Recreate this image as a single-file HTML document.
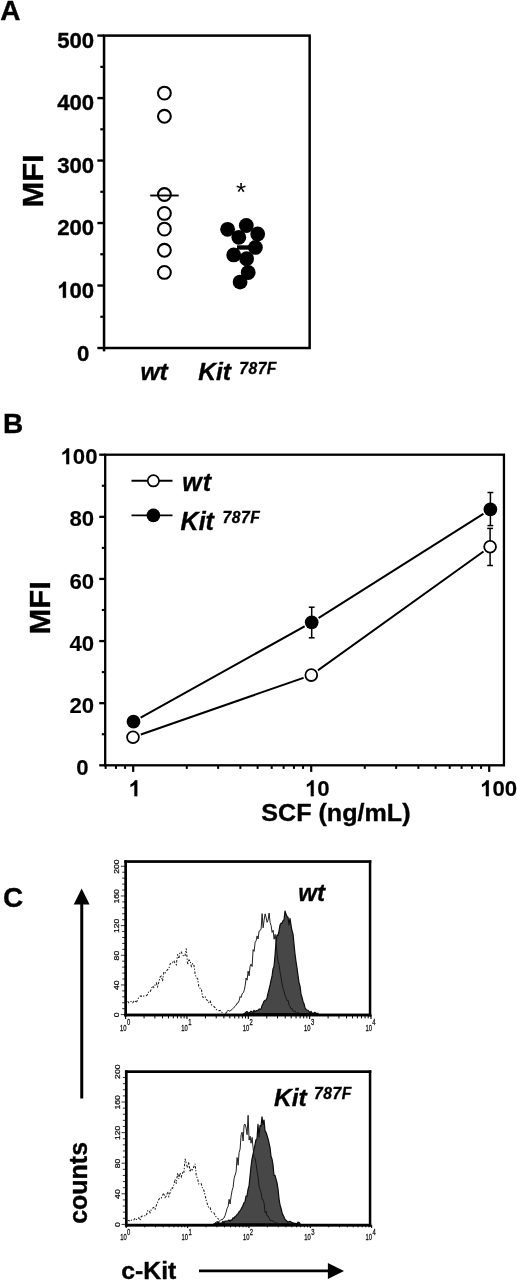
<!DOCTYPE html>
<html lang="en">
<head>
<meta charset="utf-8">
<title>Figure</title>
<style>
html,body{margin:0;padding:0;background:#fff;}
body{width:517px;height:1280px;overflow:hidden;font-family:"Liberation Sans", sans-serif;}
svg{display:block;font-family:"Liberation Sans", sans-serif;filter:grayscale(100%);}
svg text{font-family:"Liberation Sans", sans-serif;fill:#000;}
</style>
</head>
<body>
<svg width="517" height="1280" viewBox="0 0 517 1280">
<rect x="0" y="0" width="517" height="1280" fill="#fff"/>
<!-- Panel A -->
<text x="0.30" y="19.60" font-size="28" font-weight="bold" font-style="normal" text-anchor="start"  stroke="#000" stroke-width="0.35">A</text>
<rect x="104.05" y="35.6" width="205.60" height="312.40" fill="none" stroke="#000" stroke-width="2.5"/>
<line x1="104.05" y1="348.00" x2="104.05" y2="351.40" stroke="#000" stroke-width="2.5" />
<line x1="97.35" y1="35.60" x2="104.05" y2="35.60" stroke="#000" stroke-width="2.4" />
<line x1="100.30" y1="66.84" x2="104.05" y2="66.84" stroke="#000" stroke-width="2.2" />
<text x="57.17" y="47.80" font-size="22.2" font-weight="bold" font-style="normal" text-anchor="start"  stroke="#000" stroke-width="0.35">5</text>
<text x="69.51" y="47.80" font-size="22.2" font-weight="bold" font-style="normal" text-anchor="start"  stroke="#000" stroke-width="0.35">0</text>
<text x="81.86" y="47.80" font-size="22.2" font-weight="bold" font-style="normal" text-anchor="start"  stroke="#000" stroke-width="0.35">0</text>
<line x1="97.35" y1="98.08" x2="104.05" y2="98.08" stroke="#000" stroke-width="2.4" />
<line x1="100.30" y1="129.32" x2="104.05" y2="129.32" stroke="#000" stroke-width="2.2" />
<text x="57.17" y="110.28" font-size="22.2" font-weight="bold" font-style="normal" text-anchor="start"  stroke="#000" stroke-width="0.35">4</text>
<text x="69.51" y="110.28" font-size="22.2" font-weight="bold" font-style="normal" text-anchor="start"  stroke="#000" stroke-width="0.35">0</text>
<text x="81.86" y="110.28" font-size="22.2" font-weight="bold" font-style="normal" text-anchor="start"  stroke="#000" stroke-width="0.35">0</text>
<line x1="97.35" y1="160.56" x2="104.05" y2="160.56" stroke="#000" stroke-width="2.4" />
<line x1="100.30" y1="191.80" x2="104.05" y2="191.80" stroke="#000" stroke-width="2.2" />
<text x="57.17" y="172.76" font-size="22.2" font-weight="bold" font-style="normal" text-anchor="start"  stroke="#000" stroke-width="0.35">3</text>
<text x="69.51" y="172.76" font-size="22.2" font-weight="bold" font-style="normal" text-anchor="start"  stroke="#000" stroke-width="0.35">0</text>
<text x="81.86" y="172.76" font-size="22.2" font-weight="bold" font-style="normal" text-anchor="start"  stroke="#000" stroke-width="0.35">0</text>
<line x1="97.35" y1="223.04" x2="104.05" y2="223.04" stroke="#000" stroke-width="2.4" />
<line x1="100.30" y1="254.28" x2="104.05" y2="254.28" stroke="#000" stroke-width="2.2" />
<text x="57.17" y="235.24" font-size="22.2" font-weight="bold" font-style="normal" text-anchor="start"  stroke="#000" stroke-width="0.35">2</text>
<text x="69.51" y="235.24" font-size="22.2" font-weight="bold" font-style="normal" text-anchor="start"  stroke="#000" stroke-width="0.35">0</text>
<text x="81.86" y="235.24" font-size="22.2" font-weight="bold" font-style="normal" text-anchor="start"  stroke="#000" stroke-width="0.35">0</text>
<line x1="97.35" y1="285.52" x2="104.05" y2="285.52" stroke="#000" stroke-width="2.4" />
<line x1="100.30" y1="316.76" x2="104.05" y2="316.76" stroke="#000" stroke-width="2.2" />
<path transform="translate(57.17,297.72) scale(0.01084,-0.01084)" d="M806 0H531V1059Q380 918 175 850V1105Q283 1140 409.5 1239Q536 1338 583 1470H806Z" fill="#000" stroke="#000" stroke-width="32"/>
<text x="69.51" y="297.72" font-size="22.2" font-weight="bold" font-style="normal" text-anchor="start"  stroke="#000" stroke-width="0.35">0</text>
<text x="81.86" y="297.72" font-size="22.2" font-weight="bold" font-style="normal" text-anchor="start"  stroke="#000" stroke-width="0.35">0</text>
<line x1="97.35" y1="348.00" x2="104.05" y2="348.00" stroke="#000" stroke-width="2.4" />
<text x="77.06" y="361.40" font-size="22.2" font-weight="bold" font-style="normal" text-anchor="start"  stroke="#000" stroke-width="0.35">0</text>
<text transform="translate(43.1,180.9) rotate(-90) scale(1.03,1)" font-size="30" font-weight="bold" stroke="#000" stroke-width="0.35" text-anchor="middle">MFI</text>
<circle cx="164.4" cy="93.1" r="6.4" fill="#fff" stroke="#000" stroke-width="2.1"/>
<circle cx="164.4" cy="116.3" r="6.4" fill="#fff" stroke="#000" stroke-width="2.1"/>
<circle cx="164.4" cy="194.5" r="6.4" fill="#fff" stroke="#000" stroke-width="2.1"/>
<circle cx="164.4" cy="213.4" r="6.4" fill="#fff" stroke="#000" stroke-width="2.1"/>
<circle cx="164.4" cy="229.1" r="6.4" fill="#fff" stroke="#000" stroke-width="2.1"/>
<circle cx="164.4" cy="250.3" r="6.4" fill="#fff" stroke="#000" stroke-width="2.1"/>
<circle cx="164.4" cy="272.4" r="6.4" fill="#fff" stroke="#000" stroke-width="2.1"/>
<line x1="150.20" y1="195.50" x2="178.70" y2="195.50" stroke="#000" stroke-width="1.9" />
<text x="241.10" y="201.20" font-size="26" font-weight="normal" font-style="normal" text-anchor="middle" >*</text>
<line x1="237.00" y1="247.50" x2="251.00" y2="247.50" stroke="#000" stroke-width="4.4" />
<circle cx="227.6" cy="229.3" r="7.4" fill="#000"/>
<circle cx="246.3" cy="225.5" r="7.4" fill="#000"/>
<circle cx="257.7" cy="233.9" r="7.4" fill="#000"/>
<circle cx="238.8" cy="237.3" r="7.4" fill="#000"/>
<circle cx="255.4" cy="247.4" r="7.4" fill="#000"/>
<circle cx="233.7" cy="254.9" r="7.4" fill="#000"/>
<circle cx="246.6" cy="258.7" r="7.4" fill="#000"/>
<circle cx="248.2" cy="272.5" r="7.4" fill="#000"/>
<circle cx="240.1" cy="282.1" r="7.4" fill="#000"/>
<g transform="translate(140.4,380.3) scale(1,0.94)">
<text x="0.00" y="0.00" font-size="24.6" font-weight="bold" font-style="italic" text-anchor="start"  stroke="#000" stroke-width="0.35">wt</text>
</g>
<g transform="translate(198.2,380.3) scale(1,0.94)">
<text x="0.00" y="0.00" font-size="24.6" font-weight="bold" font-style="italic" text-anchor="start"  stroke="#000" stroke-width="0.35">Kit</text>
</g>
<text x="239.20" y="373.60" font-size="15.6" font-weight="bold" font-style="italic" text-anchor="start" letter-spacing="0.55" stroke="#000" stroke-width="0.35">787F</text>
<!-- Panel B -->
<text x="3.00" y="432.60" font-size="28" font-weight="bold" font-style="normal" text-anchor="start"  stroke="#000" stroke-width="0.35">B</text>
<rect x="105.2" y="454.7" width="398.75" height="310.60" fill="none" stroke="#000" stroke-width="2.3"/>
<line x1="99.20" y1="454.70" x2="105.20" y2="454.70" stroke="#000" stroke-width="2.3" />
<line x1="101.80" y1="485.76" x2="105.20" y2="485.76" stroke="#000" stroke-width="2.1" />
<path transform="translate(60.47,464.30) scale(0.01084,-0.01084)" d="M806 0H531V1059Q380 918 175 850V1105Q283 1140 409.5 1239Q536 1338 583 1470H806Z" fill="#000" stroke="#000" stroke-width="11"/>
<text x="72.81" y="464.30" font-size="22.2" font-weight="bold" font-style="normal" text-anchor="start"  stroke="#000" stroke-width="0.12">0</text>
<text x="85.16" y="464.30" font-size="22.2" font-weight="bold" font-style="normal" text-anchor="start"  stroke="#000" stroke-width="0.12">0</text>
<line x1="99.20" y1="516.82" x2="105.20" y2="516.82" stroke="#000" stroke-width="2.3" />
<line x1="101.80" y1="547.88" x2="105.20" y2="547.88" stroke="#000" stroke-width="2.1" />
<text x="69.51" y="526.42" font-size="22.2" font-weight="bold" font-style="normal" text-anchor="start"  stroke="#000" stroke-width="0.12">8</text>
<text x="81.86" y="526.42" font-size="22.2" font-weight="bold" font-style="normal" text-anchor="start"  stroke="#000" stroke-width="0.12">0</text>
<line x1="99.20" y1="578.94" x2="105.20" y2="578.94" stroke="#000" stroke-width="2.3" />
<line x1="101.80" y1="610.00" x2="105.20" y2="610.00" stroke="#000" stroke-width="2.1" />
<text x="69.51" y="588.54" font-size="22.2" font-weight="bold" font-style="normal" text-anchor="start"  stroke="#000" stroke-width="0.12">6</text>
<text x="81.86" y="588.54" font-size="22.2" font-weight="bold" font-style="normal" text-anchor="start"  stroke="#000" stroke-width="0.12">0</text>
<line x1="99.20" y1="641.06" x2="105.20" y2="641.06" stroke="#000" stroke-width="2.3" />
<line x1="101.80" y1="672.12" x2="105.20" y2="672.12" stroke="#000" stroke-width="2.1" />
<text x="69.51" y="650.66" font-size="22.2" font-weight="bold" font-style="normal" text-anchor="start"  stroke="#000" stroke-width="0.12">4</text>
<text x="81.86" y="650.66" font-size="22.2" font-weight="bold" font-style="normal" text-anchor="start"  stroke="#000" stroke-width="0.12">0</text>
<line x1="99.20" y1="703.18" x2="105.20" y2="703.18" stroke="#000" stroke-width="2.3" />
<line x1="101.80" y1="734.24" x2="105.20" y2="734.24" stroke="#000" stroke-width="2.1" />
<text x="69.51" y="712.78" font-size="22.2" font-weight="bold" font-style="normal" text-anchor="start"  stroke="#000" stroke-width="0.12">2</text>
<text x="81.86" y="712.78" font-size="22.2" font-weight="bold" font-style="normal" text-anchor="start"  stroke="#000" stroke-width="0.12">0</text>
<line x1="99.20" y1="765.30" x2="105.20" y2="765.30" stroke="#000" stroke-width="2.3" />
<text x="76.16" y="774.90" font-size="22.2" font-weight="bold" font-style="normal" text-anchor="start"  stroke="#000" stroke-width="0.12">0</text>
<text transform="translate(50.1,607.8) rotate(-90) scale(1.03,1)" font-size="30" font-weight="bold" stroke="#000" stroke-width="0.35" text-anchor="middle">MFI</text>
<line x1="105.63" y1="765.30" x2="105.63" y2="768.90" stroke="#000" stroke-width="2" />
<line x1="115.95" y1="765.30" x2="115.95" y2="768.90" stroke="#000" stroke-width="2" />
<line x1="125.06" y1="765.30" x2="125.06" y2="768.90" stroke="#000" stroke-width="2" />
<line x1="186.78" y1="765.30" x2="186.78" y2="768.90" stroke="#000" stroke-width="2" />
<line x1="218.13" y1="765.30" x2="218.13" y2="768.90" stroke="#000" stroke-width="2" />
<line x1="240.37" y1="765.30" x2="240.37" y2="768.90" stroke="#000" stroke-width="2" />
<line x1="257.62" y1="765.30" x2="257.62" y2="768.90" stroke="#000" stroke-width="2" />
<line x1="271.71" y1="765.30" x2="271.71" y2="768.90" stroke="#000" stroke-width="2" />
<line x1="283.63" y1="765.30" x2="283.63" y2="768.90" stroke="#000" stroke-width="2" />
<line x1="293.95" y1="765.30" x2="293.95" y2="768.90" stroke="#000" stroke-width="2" />
<line x1="303.06" y1="765.30" x2="303.06" y2="768.90" stroke="#000" stroke-width="2" />
<line x1="364.78" y1="765.30" x2="364.78" y2="768.90" stroke="#000" stroke-width="2" />
<line x1="396.13" y1="765.30" x2="396.13" y2="768.90" stroke="#000" stroke-width="2" />
<line x1="418.37" y1="765.30" x2="418.37" y2="768.90" stroke="#000" stroke-width="2" />
<line x1="435.62" y1="765.30" x2="435.62" y2="768.90" stroke="#000" stroke-width="2" />
<line x1="449.71" y1="765.30" x2="449.71" y2="768.90" stroke="#000" stroke-width="2" />
<line x1="461.63" y1="765.30" x2="461.63" y2="768.90" stroke="#000" stroke-width="2" />
<line x1="471.95" y1="765.30" x2="471.95" y2="768.90" stroke="#000" stroke-width="2" />
<line x1="481.06" y1="765.30" x2="481.06" y2="768.90" stroke="#000" stroke-width="2" />
<line x1="133.20" y1="765.30" x2="133.20" y2="771.90" stroke="#000" stroke-width="2.2" />
<line x1="311.20" y1="765.30" x2="311.20" y2="771.90" stroke="#000" stroke-width="2.2" />
<line x1="489.20" y1="765.30" x2="489.20" y2="771.90" stroke="#000" stroke-width="2.2" />
<path transform="translate(128.60,796.20) scale(0.01084,-0.01084)" d="M806 0H531V1059Q380 918 175 850V1105Q283 1140 409.5 1239Q536 1338 583 1470H806Z" fill="#000" stroke="#000" stroke-width="14"/>
<path transform="translate(305.00,796.20) scale(0.01084,-0.01084)" d="M806 0H531V1059Q380 918 175 850V1105Q283 1140 409.5 1239Q536 1338 583 1470H806Z" fill="#000" stroke="#000" stroke-width="14"/>
<text x="317.34" y="796.20" font-size="22.2" font-weight="bold" font-style="normal" text-anchor="start"  stroke="#000" stroke-width="0.15">0</text>
<path transform="translate(480.10,796.20) scale(0.01084,-0.01084)" d="M806 0H531V1059Q380 918 175 850V1105Q283 1140 409.5 1239Q536 1338 583 1470H806Z" fill="#000" stroke="#000" stroke-width="14"/>
<text x="492.44" y="796.20" font-size="22.2" font-weight="bold" font-style="normal" text-anchor="start"  stroke="#000" stroke-width="0.15">0</text>
<text x="504.79" y="796.20" font-size="22.2" font-weight="bold" font-style="normal" text-anchor="start"  stroke="#000" stroke-width="0.15">0</text>
<text x="261.30" y="820.60" font-size="24.2" font-weight="bold" font-style="normal" text-anchor="start" textLength="149.2" lengthAdjust="spacingAndGlyphs" stroke="#000" stroke-width="0.35">SCF (ng/mL)</text>
<polyline points="133.0,737.2 311.3,675.1 490.1,546.7" fill="none" stroke="#000" stroke-width="2.0"/>
<polyline points="133.5,721.7 311.7,622.3 490.4,509.4" fill="none" stroke="#000" stroke-width="2.0"/>
<circle cx="133.0" cy="737.2" r="8.3" fill="#fff"/>
<circle cx="311.3" cy="675.1" r="8.3" fill="#fff"/>
<circle cx="490.1" cy="546.7" r="8.3" fill="#fff"/>
<circle cx="133.5" cy="721.7" r="8.3" fill="#fff"/>
<circle cx="311.7" cy="622.3" r="8.3" fill="#fff"/>
<circle cx="490.4" cy="509.4" r="8.3" fill="#fff"/>
<line x1="311.70" y1="607.20" x2="311.70" y2="637.80" stroke="#000" stroke-width="1.5" />
<line x1="308.80" y1="607.20" x2="314.60" y2="607.20" stroke="#000" stroke-width="1.5" />
<line x1="308.80" y1="637.80" x2="314.60" y2="637.80" stroke="#000" stroke-width="1.5" />
<line x1="490.40" y1="492.50" x2="490.40" y2="525.60" stroke="#000" stroke-width="1.5" />
<line x1="487.50" y1="492.50" x2="493.30" y2="492.50" stroke="#000" stroke-width="1.5" />
<line x1="487.50" y1="525.60" x2="493.30" y2="525.60" stroke="#000" stroke-width="1.5" />
<line x1="490.10" y1="528.40" x2="490.10" y2="565.50" stroke="#000" stroke-width="1.5" />
<line x1="487.20" y1="528.40" x2="493.00" y2="528.40" stroke="#000" stroke-width="1.5" />
<line x1="487.20" y1="565.50" x2="493.00" y2="565.50" stroke="#000" stroke-width="1.5" />
<circle cx="133.0" cy="737.2" r="5.9" fill="#fff" stroke="#000" stroke-width="1.8"/>
<circle cx="311.3" cy="675.1" r="5.9" fill="#fff" stroke="#000" stroke-width="1.8"/>
<circle cx="490.1" cy="546.7" r="5.9" fill="#fff" stroke="#000" stroke-width="1.8"/>
<circle cx="133.5" cy="721.7" r="6.85" fill="#000"/>
<circle cx="311.7" cy="622.3" r="6.85" fill="#000"/>
<circle cx="490.4" cy="509.4" r="6.85" fill="#000"/>
<line x1="131.50" y1="480.80" x2="172.50" y2="480.80" stroke="#000" stroke-width="1.9" />
<circle cx="153.4" cy="480.8" r="5.65" fill="#fff" stroke="#000" stroke-width="1.7"/>
<line x1="131.50" y1="515.40" x2="172.50" y2="515.40" stroke="#000" stroke-width="1.9" />
<circle cx="153.4" cy="515.4" r="6.8" fill="#000"/>
<text x="182.20" y="490.60" font-size="25" font-weight="bold" font-style="italic" text-anchor="start" letter-spacing="1.1" stroke="#000" stroke-width="0.35">wt</text>
<text x="180.60" y="529.60" font-size="25" font-weight="bold" font-style="italic" text-anchor="start"  stroke="#000" stroke-width="0.35">Kit</text>
<text x="222.50" y="522.50" font-size="15.6" font-weight="bold" font-style="italic" text-anchor="start" letter-spacing="0.55" stroke="#000" stroke-width="0.35">787F</text>
<!-- Panel C -->
<text x="3.00" y="907.00" font-size="28" font-weight="bold" font-style="normal" text-anchor="start"  stroke="#000" stroke-width="0.35">C</text>
<line x1="81.75" y1="1098.50" x2="81.75" y2="902.00" stroke="#000" stroke-width="3.0" />
<polygon points="81.65,888.6 73.7,904.5 89.6,904.5" fill="#000"/>
<text transform="translate(86.6,1182.9) rotate(-90)" font-size="25" font-weight="bold" stroke="#000" stroke-width="0.35" text-anchor="middle">counts</text>
<text x="121.20" y="1278.50" font-size="24.8" font-weight="bold" font-style="normal" text-anchor="start"  stroke="#000" stroke-width="0.35">c-Kit</text>
<line x1="199.00" y1="1270.90" x2="330.00" y2="1270.90" stroke="#000" stroke-width="2.8" />
<polygon points="344.0,1271.0 327.9,1262.9 327.9,1279.1" fill="#000"/>
<path d="M127.6,1001.3 L128.8,1002.9 L130.1,1002.0 L131.3,1001.4 L132.6,1002.8 L133.8,1001.3 L135.1,1000.5 L136.3,1002.9 L137.6,999.5 L138.8,997.5 L140.1,996.1 L141.3,996.1 L142.6,996.8 L143.8,996.0 L145.1,995.4 L146.3,995.6 L147.6,994.4 L148.8,991.4 L150.1,991.7 L151.3,989.3 L152.6,985.7 L153.8,987.5 L155.1,984.7 L156.3,983.0 L157.6,986.7 L158.8,982.0 L160.1,977.0 L161.3,976.1 L162.6,981.0 L163.8,971.9 L165.1,972.9 L166.3,971.2 L167.6,969.7 L168.8,968.8 L170.1,964.1 L171.3,962.9 L172.6,962.6 L173.8,960.6 L175.1,963.3 L176.3,964.7 L177.6,954.3 L178.8,958.7 L180.1,951.9 L181.3,952.0 L182.6,954.5 L183.8,956.5 L185.1,955.5 L186.3,948.6 L187.6,964.7 L188.8,960.2 L190.1,960.4 L191.3,966.4 L192.6,963.6 L193.8,964.1 L195.1,974.0 L196.3,977.7 L197.6,978.5 L198.8,986.2 L200.1,988.3 L201.3,988.6 L202.6,997.0 L203.8,997.3 L205.1,996.3 L206.3,999.7 L207.6,1000.3 L208.8,1002.5 L210.1,1000.6 L211.3,1004.6 L212.6,1005.5 L213.8,1006.5 L215.1,1007.6 L216.3,1009.5 L217.6,1010.1 L218.8,1010.7 L220.1,1010.4 L221.3,1012.2 L222.6,1012.5 L223.8,1012.4" fill="none" stroke="#1c1c1c" stroke-width="1.05" stroke-dasharray="2.4 1.5 1.2 1.7"/>
<path d="M244.0,1013.7 L244.0,1013.4 L245.0,1013.4 L246.0,1012.0 L247.0,1011.5 L248.0,1012.5 L249.0,1012.9 L250.0,1012.2 L251.0,1011.2 L252.0,1011.7 L253.0,1012.6 L254.0,1010.3 L255.0,1011.6 L256.0,1010.9 L257.0,1010.5 L258.0,1010.4 L259.0,1009.1 L260.0,1009.0 L261.0,1009.2 L262.0,1005.7 L263.0,1003.9 L264.0,1001.2 L265.0,1000.4 L266.0,1000.0 L267.0,998.0 L268.0,993.4 L269.0,989.5 L270.0,985.5 L271.0,980.4 L272.0,976.5 L273.0,968.9 L274.0,966.5 L275.0,955.5 L276.0,942.0 L277.0,935.2 L278.0,935.4 L279.0,931.1 L280.0,925.1 L281.0,923.2 L282.0,923.3 L283.0,920.8 L284.0,919.9 L285.0,911.0 L286.0,914.0 L287.0,916.4 L288.0,917.2 L289.0,925.0 L290.0,918.3 L291.0,925.1 L292.0,930.8 L293.0,933.9 L294.0,944.1 L295.0,954.0 L296.0,961.5 L297.0,967.8 L298.0,975.3 L299.0,982.6 L300.0,985.9 L301.0,993.9 L302.0,997.5 L303.0,1001.4 L304.0,1003.7 L305.0,1007.7 L306.0,1009.4 L307.0,1010.0 L308.0,1010.3 L309.0,1011.4 L310.0,1013.0 L311.0,1011.3 L312.0,1013.3 L313.0,1013.2 L314.0,1012.9 L315.0,1012.4 L316.0,1013.4 L317.0,1013.4 L318.0,1013.4 L318.0,1013.7 Z" fill="#474747" stroke="#0c0c0c" stroke-width="1.2" stroke-linejoin="round"/>
<path d="M225.1,1012.9 L226.1,1013.4 L227.1,1011.4 L228.1,1010.2 L229.1,1011.2 L230.1,1010.9 L231.1,1010.1 L232.1,1009.5 L233.1,1008.3 L234.1,1007.2 L235.1,1006.3 L236.1,1005.1 L237.1,1003.2 L238.1,1002.9 L239.1,1000.8 L240.1,996.5 L241.1,997.5 L242.1,993.9 L243.1,992.9 L244.1,990.8 L245.1,986.1 L246.1,978.0 L247.1,980.2 L248.1,971.1 L249.1,975.9 L250.1,966.2 L251.1,964.1 L252.1,966.5 L253.1,949.6 L254.1,951.4 L255.1,942.4 L256.1,940.8 L257.1,935.9 L258.1,939.0 L259.1,931.0 L260.1,930.6 L261.1,929.0 L262.1,913.6 L263.1,927.8 L264.1,920.2 L265.1,913.9 L266.1,917.5 L267.1,922.4 L268.1,919.9 L269.1,913.0 L270.1,922.4 L271.1,925.5 L272.1,932.4 L273.1,930.3 L274.1,939.2 L275.1,934.4 L276.1,941.6 L277.1,954.3 L278.1,961.4 L279.1,964.8 L280.1,972.7 L281.1,977.6 L282.1,984.1 L283.1,988.7 L284.1,991.3 L285.1,995.7 L286.1,997.8 L287.1,1000.7 L288.1,1000.4 L289.1,1005.3 L290.1,1006.6 L291.1,1008.8 L292.1,1008.5 L293.1,1011.3 L294.1,1011.5 L295.1,1010.9 L296.1,1013.0 L297.1,1013.4 L298.1,1012.1 L299.1,1013.4" fill="none" stroke="#161616" stroke-width="0.95" stroke-linejoin="round"/>
<line x1="120.85" y1="1014.60" x2="125.65" y2="1014.60" stroke="#111" stroke-width="0.85" />
<line x1="122.15" y1="1008.67" x2="125.65" y2="1008.67" stroke="#111" stroke-width="0.85" />
<line x1="122.15" y1="1002.74" x2="125.65" y2="1002.74" stroke="#111" stroke-width="0.85" />
<line x1="122.15" y1="996.80" x2="125.65" y2="996.80" stroke="#111" stroke-width="0.85" />
<line x1="122.15" y1="990.87" x2="125.65" y2="990.87" stroke="#111" stroke-width="0.85" />
<line x1="120.85" y1="984.94" x2="125.65" y2="984.94" stroke="#111" stroke-width="0.85" />
<line x1="122.15" y1="979.01" x2="125.65" y2="979.01" stroke="#111" stroke-width="0.85" />
<line x1="122.15" y1="973.08" x2="125.65" y2="973.08" stroke="#111" stroke-width="0.85" />
<line x1="122.15" y1="967.14" x2="125.65" y2="967.14" stroke="#111" stroke-width="0.85" />
<line x1="122.15" y1="961.21" x2="125.65" y2="961.21" stroke="#111" stroke-width="0.85" />
<line x1="120.85" y1="955.28" x2="125.65" y2="955.28" stroke="#111" stroke-width="0.85" />
<line x1="122.15" y1="949.35" x2="125.65" y2="949.35" stroke="#111" stroke-width="0.85" />
<line x1="122.15" y1="943.42" x2="125.65" y2="943.42" stroke="#111" stroke-width="0.85" />
<line x1="122.15" y1="937.48" x2="125.65" y2="937.48" stroke="#111" stroke-width="0.85" />
<line x1="122.15" y1="931.55" x2="125.65" y2="931.55" stroke="#111" stroke-width="0.85" />
<line x1="120.85" y1="925.62" x2="125.65" y2="925.62" stroke="#111" stroke-width="0.85" />
<line x1="122.15" y1="919.69" x2="125.65" y2="919.69" stroke="#111" stroke-width="0.85" />
<line x1="122.15" y1="913.76" x2="125.65" y2="913.76" stroke="#111" stroke-width="0.85" />
<line x1="122.15" y1="907.82" x2="125.65" y2="907.82" stroke="#111" stroke-width="0.85" />
<line x1="122.15" y1="901.89" x2="125.65" y2="901.89" stroke="#111" stroke-width="0.85" />
<line x1="120.85" y1="895.96" x2="125.65" y2="895.96" stroke="#111" stroke-width="0.85" />
<line x1="122.15" y1="890.03" x2="125.65" y2="890.03" stroke="#111" stroke-width="0.85" />
<line x1="122.15" y1="884.10" x2="125.65" y2="884.10" stroke="#111" stroke-width="0.85" />
<line x1="122.15" y1="878.16" x2="125.65" y2="878.16" stroke="#111" stroke-width="0.85" />
<line x1="122.15" y1="872.23" x2="125.65" y2="872.23" stroke="#111" stroke-width="0.85" />
<line x1="120.85" y1="866.30" x2="125.65" y2="866.30" stroke="#111" stroke-width="0.85" />
<text transform="translate(118.9,1014.9) rotate(-90) scale(1.08,1)" font-size="8" font-weight="normal" text-anchor="middle" style="fill:#111" stroke="#111" stroke-width="0.25">0</text>
<text transform="translate(118.9,985.2) rotate(-90) scale(1.08,1)" font-size="8" font-weight="normal" text-anchor="middle" style="fill:#111" stroke="#111" stroke-width="0.25">40</text>
<text transform="translate(118.9,955.6) rotate(-90) scale(1.08,1)" font-size="8" font-weight="normal" text-anchor="middle" style="fill:#111" stroke="#111" stroke-width="0.25">80</text>
<text transform="translate(118.9,925.9) rotate(-90) scale(1.08,1)" font-size="8" font-weight="normal" text-anchor="middle" style="fill:#111" stroke="#111" stroke-width="0.25">120</text>
<text transform="translate(118.9,896.3) rotate(-90) scale(1.08,1)" font-size="8" font-weight="normal" text-anchor="middle" style="fill:#111" stroke="#111" stroke-width="0.25">160</text>
<text transform="translate(118.9,866.6) rotate(-90) scale(1.08,1)" font-size="8" font-weight="normal" text-anchor="middle" style="fill:#111" stroke="#111" stroke-width="0.25">200</text>
<line x1="144.07" y1="1015.00" x2="144.07" y2="1018.40" stroke="#000" stroke-width="1.0" />
<line x1="154.87" y1="1015.00" x2="154.87" y2="1018.40" stroke="#000" stroke-width="1.0" />
<line x1="162.54" y1="1015.00" x2="162.54" y2="1018.40" stroke="#000" stroke-width="1.0" />
<line x1="168.48" y1="1015.00" x2="168.48" y2="1018.40" stroke="#000" stroke-width="1.0" />
<line x1="173.34" y1="1015.00" x2="173.34" y2="1018.40" stroke="#000" stroke-width="1.0" />
<line x1="177.45" y1="1015.00" x2="177.45" y2="1018.40" stroke="#000" stroke-width="1.0" />
<line x1="181.00" y1="1015.00" x2="181.00" y2="1018.40" stroke="#000" stroke-width="1.0" />
<line x1="184.14" y1="1015.00" x2="184.14" y2="1018.40" stroke="#000" stroke-width="1.0" />
<line x1="205.42" y1="1015.00" x2="205.42" y2="1018.40" stroke="#000" stroke-width="1.0" />
<line x1="216.22" y1="1015.00" x2="216.22" y2="1018.40" stroke="#000" stroke-width="1.0" />
<line x1="223.89" y1="1015.00" x2="223.89" y2="1018.40" stroke="#000" stroke-width="1.0" />
<line x1="229.83" y1="1015.00" x2="229.83" y2="1018.40" stroke="#000" stroke-width="1.0" />
<line x1="234.69" y1="1015.00" x2="234.69" y2="1018.40" stroke="#000" stroke-width="1.0" />
<line x1="238.80" y1="1015.00" x2="238.80" y2="1018.40" stroke="#000" stroke-width="1.0" />
<line x1="242.35" y1="1015.00" x2="242.35" y2="1018.40" stroke="#000" stroke-width="1.0" />
<line x1="245.49" y1="1015.00" x2="245.49" y2="1018.40" stroke="#000" stroke-width="1.0" />
<line x1="266.77" y1="1015.00" x2="266.77" y2="1018.40" stroke="#000" stroke-width="1.0" />
<line x1="277.57" y1="1015.00" x2="277.57" y2="1018.40" stroke="#000" stroke-width="1.0" />
<line x1="285.24" y1="1015.00" x2="285.24" y2="1018.40" stroke="#000" stroke-width="1.0" />
<line x1="291.18" y1="1015.00" x2="291.18" y2="1018.40" stroke="#000" stroke-width="1.0" />
<line x1="296.04" y1="1015.00" x2="296.04" y2="1018.40" stroke="#000" stroke-width="1.0" />
<line x1="300.15" y1="1015.00" x2="300.15" y2="1018.40" stroke="#000" stroke-width="1.0" />
<line x1="303.70" y1="1015.00" x2="303.70" y2="1018.40" stroke="#000" stroke-width="1.0" />
<line x1="306.84" y1="1015.00" x2="306.84" y2="1018.40" stroke="#000" stroke-width="1.0" />
<line x1="328.12" y1="1015.00" x2="328.12" y2="1018.40" stroke="#000" stroke-width="1.0" />
<line x1="338.92" y1="1015.00" x2="338.92" y2="1018.40" stroke="#000" stroke-width="1.0" />
<line x1="346.59" y1="1015.00" x2="346.59" y2="1018.40" stroke="#000" stroke-width="1.0" />
<line x1="352.53" y1="1015.00" x2="352.53" y2="1018.40" stroke="#000" stroke-width="1.0" />
<line x1="357.39" y1="1015.00" x2="357.39" y2="1018.40" stroke="#000" stroke-width="1.0" />
<line x1="361.50" y1="1015.00" x2="361.50" y2="1018.40" stroke="#000" stroke-width="1.0" />
<line x1="365.05" y1="1015.00" x2="365.05" y2="1018.40" stroke="#000" stroke-width="1.0" />
<line x1="368.19" y1="1015.00" x2="368.19" y2="1018.40" stroke="#000" stroke-width="1.0" />
<line x1="125.60" y1="1015.00" x2="125.60" y2="1019.00" stroke="#000" stroke-width="1.1" />
<text transform="translate(126.5,1030.5) scale(0.63,1)" font-size="9.3" font-weight="normal" text-anchor="end" style="fill:#111" stroke="#111" stroke-width="0.3">10</text>
<text transform="translate(126.9,1024.9) scale(0.64,1)" font-size="9.2" font-weight="normal" style="fill:#111" stroke="#111" stroke-width="0.3">0</text>
<line x1="186.95" y1="1015.00" x2="186.95" y2="1019.00" stroke="#000" stroke-width="1.1" />
<text transform="translate(187.8,1030.5) scale(0.63,1)" font-size="9.3" font-weight="normal" text-anchor="end" style="fill:#111" stroke="#111" stroke-width="0.3">10</text>
<text transform="translate(188.2,1024.9) scale(0.64,1)" font-size="9.2" font-weight="normal" style="fill:#111" stroke="#111" stroke-width="0.3">1</text>
<line x1="248.30" y1="1015.00" x2="248.30" y2="1019.00" stroke="#000" stroke-width="1.1" />
<text transform="translate(249.2,1030.5) scale(0.63,1)" font-size="9.3" font-weight="normal" text-anchor="end" style="fill:#111" stroke="#111" stroke-width="0.3">10</text>
<text transform="translate(249.6,1024.9) scale(0.64,1)" font-size="9.2" font-weight="normal" style="fill:#111" stroke="#111" stroke-width="0.3">2</text>
<line x1="309.65" y1="1015.00" x2="309.65" y2="1019.00" stroke="#000" stroke-width="1.1" />
<text transform="translate(310.5,1030.5) scale(0.63,1)" font-size="9.3" font-weight="normal" text-anchor="end" style="fill:#111" stroke="#111" stroke-width="0.3">10</text>
<text transform="translate(310.9,1024.9) scale(0.64,1)" font-size="9.2" font-weight="normal" style="fill:#111" stroke="#111" stroke-width="0.3">3</text>
<line x1="371.00" y1="1015.00" x2="371.00" y2="1019.00" stroke="#000" stroke-width="1.1" />
<text transform="translate(371.9,1030.5) scale(0.63,1)" font-size="9.3" font-weight="normal" text-anchor="end" style="fill:#111" stroke="#111" stroke-width="0.3">10</text>
<text transform="translate(372.3,1024.9) scale(0.64,1)" font-size="9.2" font-weight="normal" style="fill:#111" stroke="#111" stroke-width="0.3">4</text>
<rect x="124.30" y="860.30" width="2.7" height="156.15" fill="#000"/>
<rect x="124.30" y="1013.55" width="247.00" height="2.9" fill="#000"/>
<rect x="124.30" y="860.20" width="247.00" height="2.7" fill="#000"/>
<rect x="368.80" y="860.30" width="2.5" height="156.15" fill="#000"/>
<text x="298.30" y="901.00" font-size="24" font-weight="bold" font-style="italic" text-anchor="start"  stroke="#000" stroke-width="0.35">wt</text>
<path d="M127.6,1220.4 L128.8,1220.5 L130.1,1221.4 L131.3,1220.2 L132.6,1219.8 L133.8,1220.0 L135.1,1218.1 L136.3,1219.5 L137.6,1219.4 L138.8,1217.8 L140.1,1220.3 L141.3,1216.5 L142.6,1216.0 L143.8,1215.8 L145.1,1215.8 L146.3,1215.9 L147.6,1210.8 L148.8,1210.2 L150.1,1212.7 L151.3,1209.4 L152.6,1208.1 L153.8,1207.4 L155.1,1209.2 L156.3,1205.4 L157.6,1202.2 L158.8,1199.4 L160.1,1198.1 L161.3,1198.1 L162.6,1195.1 L163.8,1193.2 L165.1,1197.5 L166.3,1196.1 L167.6,1191.8 L168.8,1196.4 L170.1,1192.5 L171.3,1188.0 L172.6,1188.3 L173.8,1184.9 L175.1,1179.2 L176.3,1183.6 L177.6,1172.8 L178.8,1178.6 L180.1,1173.0 L181.3,1176.7 L182.6,1172.6 L183.8,1173.3 L185.1,1158.8 L186.3,1163.5 L187.6,1168.0 L188.8,1162.0 L190.1,1172.0 L191.3,1168.5 L192.6,1169.9 L193.8,1167.0 L195.1,1163.9 L196.3,1176.0 L197.6,1178.7 L198.8,1183.9 L200.1,1183.2 L201.3,1183.9 L202.6,1188.7 L203.8,1190.1 L205.1,1195.3 L206.3,1200.8 L207.6,1204.7 L208.8,1207.9 L210.1,1207.7 L211.3,1211.7 L212.6,1212.4 L213.8,1212.8 L215.1,1215.0 L216.3,1217.3 L217.6,1218.1 L218.8,1219.5" fill="none" stroke="#1c1c1c" stroke-width="1.05" stroke-dasharray="2.4 1.5 1.2 1.7"/>
<path d="M214.0,1223.9 L214.0,1223.6 L215.0,1223.5 L216.0,1222.8 L217.0,1223.6 L218.0,1222.0 L219.0,1222.9 L220.0,1223.4 L221.0,1223.0 L222.0,1222.7 L223.0,1221.3 L224.0,1223.1 L225.0,1221.0 L226.0,1221.2 L227.0,1221.0 L228.0,1220.7 L229.0,1220.0 L230.0,1221.3 L231.0,1219.9 L232.0,1220.4 L233.0,1217.8 L234.0,1218.4 L235.0,1216.5 L236.0,1215.9 L237.0,1214.6 L238.0,1213.7 L239.0,1211.9 L240.0,1210.9 L241.0,1209.2 L242.0,1207.4 L243.0,1205.2 L244.0,1202.7 L245.0,1201.9 L246.0,1196.0 L247.0,1196.1 L248.0,1189.5 L249.0,1186.2 L250.0,1176.2 L251.0,1166.5 L252.0,1158.9 L253.0,1154.4 L254.0,1149.5 L255.0,1144.9 L256.0,1139.6 L257.0,1138.8 L258.0,1124.3 L259.0,1136.8 L260.0,1125.6 L261.0,1126.3 L262.0,1116.8 L263.0,1124.4 L264.0,1120.0 L265.0,1130.6 L266.0,1132.3 L267.0,1135.3 L268.0,1138.6 L269.0,1142.9 L270.0,1147.4 L271.0,1156.3 L272.0,1159.0 L273.0,1164.7 L274.0,1175.5 L275.0,1175.4 L276.0,1179.2 L277.0,1182.7 L278.0,1188.8 L279.0,1198.6 L280.0,1205.0 L281.0,1208.1 L282.0,1212.5 L283.0,1215.1 L284.0,1217.1 L285.0,1219.4 L286.0,1220.2 L287.0,1221.1 L288.0,1222.3 L289.0,1221.5 L290.0,1221.4 L291.0,1221.9 L292.0,1222.7 L293.0,1222.9 L294.0,1223.2 L295.0,1223.3 L296.0,1223.6 L297.0,1223.6 L298.0,1222.0 L299.0,1222.5 L300.0,1223.5 L300.0,1223.9 Z" fill="#474747" stroke="#0c0c0c" stroke-width="1.2" stroke-linejoin="round"/>
<path d="M215.1,1223.3 L216.1,1222.5 L217.1,1221.2 L218.1,1222.2 L219.1,1221.2 L220.1,1220.7 L221.1,1219.6 L222.1,1220.0 L223.1,1218.5 L224.1,1217.9 L225.1,1215.4 L226.1,1212.2 L227.1,1208.4 L228.1,1206.5 L229.1,1199.3 L230.1,1204.0 L231.1,1196.1 L232.1,1190.5 L233.1,1187.3 L234.1,1178.4 L235.1,1175.0 L236.1,1171.7 L237.1,1157.5 L238.1,1165.2 L239.1,1152.7 L240.1,1149.1 L241.1,1134.9 L242.1,1132.2 L243.1,1141.0 L244.1,1124.9 L245.1,1124.2 L246.1,1128.0 L247.1,1134.7 L248.1,1115.3 L249.1,1140.1 L250.1,1136.2 L251.1,1143.2 L252.1,1137.4 L253.1,1147.9 L254.1,1157.8 L255.1,1158.0 L256.1,1164.1 L257.1,1171.7 L258.1,1177.0 L259.1,1186.3 L260.1,1190.0 L261.1,1192.6 L262.1,1199.3 L263.1,1199.6 L264.1,1203.2 L265.1,1212.9 L266.1,1211.2 L267.1,1216.0 L268.1,1216.0 L269.1,1217.9 L270.1,1220.6 L271.1,1220.3 L272.1,1220.6 L273.1,1221.4 L274.1,1221.6 L275.1,1222.8 L276.1,1223.6 L277.1,1222.1" fill="none" stroke="#161616" stroke-width="0.95" stroke-linejoin="round"/>
<line x1="121.50" y1="1224.40" x2="126.30" y2="1224.40" stroke="#111" stroke-width="0.85" />
<line x1="122.80" y1="1218.28" x2="126.30" y2="1218.28" stroke="#111" stroke-width="0.85" />
<line x1="122.80" y1="1212.16" x2="126.30" y2="1212.16" stroke="#111" stroke-width="0.85" />
<line x1="122.80" y1="1206.04" x2="126.30" y2="1206.04" stroke="#111" stroke-width="0.85" />
<line x1="122.80" y1="1199.92" x2="126.30" y2="1199.92" stroke="#111" stroke-width="0.85" />
<line x1="121.50" y1="1193.80" x2="126.30" y2="1193.80" stroke="#111" stroke-width="0.85" />
<line x1="122.80" y1="1187.68" x2="126.30" y2="1187.68" stroke="#111" stroke-width="0.85" />
<line x1="122.80" y1="1181.56" x2="126.30" y2="1181.56" stroke="#111" stroke-width="0.85" />
<line x1="122.80" y1="1175.44" x2="126.30" y2="1175.44" stroke="#111" stroke-width="0.85" />
<line x1="122.80" y1="1169.32" x2="126.30" y2="1169.32" stroke="#111" stroke-width="0.85" />
<line x1="121.50" y1="1163.20" x2="126.30" y2="1163.20" stroke="#111" stroke-width="0.85" />
<line x1="122.80" y1="1157.08" x2="126.30" y2="1157.08" stroke="#111" stroke-width="0.85" />
<line x1="122.80" y1="1150.96" x2="126.30" y2="1150.96" stroke="#111" stroke-width="0.85" />
<line x1="122.80" y1="1144.84" x2="126.30" y2="1144.84" stroke="#111" stroke-width="0.85" />
<line x1="122.80" y1="1138.72" x2="126.30" y2="1138.72" stroke="#111" stroke-width="0.85" />
<line x1="121.50" y1="1132.60" x2="126.30" y2="1132.60" stroke="#111" stroke-width="0.85" />
<line x1="122.80" y1="1126.48" x2="126.30" y2="1126.48" stroke="#111" stroke-width="0.85" />
<line x1="122.80" y1="1120.36" x2="126.30" y2="1120.36" stroke="#111" stroke-width="0.85" />
<line x1="122.80" y1="1114.24" x2="126.30" y2="1114.24" stroke="#111" stroke-width="0.85" />
<line x1="122.80" y1="1108.12" x2="126.30" y2="1108.12" stroke="#111" stroke-width="0.85" />
<line x1="121.50" y1="1102.00" x2="126.30" y2="1102.00" stroke="#111" stroke-width="0.85" />
<line x1="122.80" y1="1095.88" x2="126.30" y2="1095.88" stroke="#111" stroke-width="0.85" />
<line x1="122.80" y1="1089.76" x2="126.30" y2="1089.76" stroke="#111" stroke-width="0.85" />
<line x1="122.80" y1="1083.64" x2="126.30" y2="1083.64" stroke="#111" stroke-width="0.85" />
<line x1="122.80" y1="1077.52" x2="126.30" y2="1077.52" stroke="#111" stroke-width="0.85" />
<text transform="translate(119.5,1224.7) rotate(-90) scale(1.08,1)" font-size="8" font-weight="normal" text-anchor="middle" style="fill:#111" stroke="#111" stroke-width="0.25">0</text>
<text transform="translate(119.5,1194.1) rotate(-90) scale(1.08,1)" font-size="8" font-weight="normal" text-anchor="middle" style="fill:#111" stroke="#111" stroke-width="0.25">40</text>
<text transform="translate(119.5,1163.5) rotate(-90) scale(1.08,1)" font-size="8" font-weight="normal" text-anchor="middle" style="fill:#111" stroke="#111" stroke-width="0.25">80</text>
<text transform="translate(119.5,1132.9) rotate(-90) scale(1.08,1)" font-size="8" font-weight="normal" text-anchor="middle" style="fill:#111" stroke="#111" stroke-width="0.25">120</text>
<text transform="translate(119.5,1102.3) rotate(-90) scale(1.08,1)" font-size="8" font-weight="normal" text-anchor="middle" style="fill:#111" stroke="#111" stroke-width="0.25">160</text>
<text transform="translate(119.5,1071.7) rotate(-90) scale(1.08,1)" font-size="8" font-weight="normal" text-anchor="middle" style="fill:#111" stroke="#111" stroke-width="0.25">200</text>
<line x1="144.72" y1="1225.20" x2="144.72" y2="1227.30" stroke="#000" stroke-width="1.0" />
<line x1="155.52" y1="1225.20" x2="155.52" y2="1227.30" stroke="#000" stroke-width="1.0" />
<line x1="163.19" y1="1225.20" x2="163.19" y2="1227.30" stroke="#000" stroke-width="1.0" />
<line x1="169.13" y1="1225.20" x2="169.13" y2="1227.30" stroke="#000" stroke-width="1.0" />
<line x1="173.99" y1="1225.20" x2="173.99" y2="1227.30" stroke="#000" stroke-width="1.0" />
<line x1="178.10" y1="1225.20" x2="178.10" y2="1227.30" stroke="#000" stroke-width="1.0" />
<line x1="181.65" y1="1225.20" x2="181.65" y2="1227.30" stroke="#000" stroke-width="1.0" />
<line x1="184.79" y1="1225.20" x2="184.79" y2="1227.30" stroke="#000" stroke-width="1.0" />
<line x1="206.07" y1="1225.20" x2="206.07" y2="1227.30" stroke="#000" stroke-width="1.0" />
<line x1="216.87" y1="1225.20" x2="216.87" y2="1227.30" stroke="#000" stroke-width="1.0" />
<line x1="224.54" y1="1225.20" x2="224.54" y2="1227.30" stroke="#000" stroke-width="1.0" />
<line x1="230.48" y1="1225.20" x2="230.48" y2="1227.30" stroke="#000" stroke-width="1.0" />
<line x1="235.34" y1="1225.20" x2="235.34" y2="1227.30" stroke="#000" stroke-width="1.0" />
<line x1="239.45" y1="1225.20" x2="239.45" y2="1227.30" stroke="#000" stroke-width="1.0" />
<line x1="243.00" y1="1225.20" x2="243.00" y2="1227.30" stroke="#000" stroke-width="1.0" />
<line x1="246.14" y1="1225.20" x2="246.14" y2="1227.30" stroke="#000" stroke-width="1.0" />
<line x1="267.42" y1="1225.20" x2="267.42" y2="1227.30" stroke="#000" stroke-width="1.0" />
<line x1="278.22" y1="1225.20" x2="278.22" y2="1227.30" stroke="#000" stroke-width="1.0" />
<line x1="285.89" y1="1225.20" x2="285.89" y2="1227.30" stroke="#000" stroke-width="1.0" />
<line x1="291.83" y1="1225.20" x2="291.83" y2="1227.30" stroke="#000" stroke-width="1.0" />
<line x1="296.69" y1="1225.20" x2="296.69" y2="1227.30" stroke="#000" stroke-width="1.0" />
<line x1="300.80" y1="1225.20" x2="300.80" y2="1227.30" stroke="#000" stroke-width="1.0" />
<line x1="304.35" y1="1225.20" x2="304.35" y2="1227.30" stroke="#000" stroke-width="1.0" />
<line x1="307.49" y1="1225.20" x2="307.49" y2="1227.30" stroke="#000" stroke-width="1.0" />
<line x1="328.77" y1="1225.20" x2="328.77" y2="1227.30" stroke="#000" stroke-width="1.0" />
<line x1="339.57" y1="1225.20" x2="339.57" y2="1227.30" stroke="#000" stroke-width="1.0" />
<line x1="347.24" y1="1225.20" x2="347.24" y2="1227.30" stroke="#000" stroke-width="1.0" />
<line x1="353.18" y1="1225.20" x2="353.18" y2="1227.30" stroke="#000" stroke-width="1.0" />
<line x1="358.04" y1="1225.20" x2="358.04" y2="1227.30" stroke="#000" stroke-width="1.0" />
<line x1="362.15" y1="1225.20" x2="362.15" y2="1227.30" stroke="#000" stroke-width="1.0" />
<line x1="365.70" y1="1225.20" x2="365.70" y2="1227.30" stroke="#000" stroke-width="1.0" />
<line x1="368.84" y1="1225.20" x2="368.84" y2="1227.30" stroke="#000" stroke-width="1.0" />
<line x1="126.25" y1="1225.20" x2="126.25" y2="1227.90" stroke="#000" stroke-width="1.1" />
<text transform="translate(126.7,1240.1) scale(0.63,1)" font-size="9.3" font-weight="normal" text-anchor="end" style="fill:#111" stroke="#111" stroke-width="0.3">10</text>
<text transform="translate(127.1,1234.5) scale(0.64,1)" font-size="9.2" font-weight="normal" style="fill:#111" stroke="#111" stroke-width="0.3">0</text>
<line x1="187.60" y1="1225.20" x2="187.60" y2="1227.90" stroke="#000" stroke-width="1.1" />
<text transform="translate(188.1,1240.1) scale(0.63,1)" font-size="9.3" font-weight="normal" text-anchor="end" style="fill:#111" stroke="#111" stroke-width="0.3">10</text>
<text transform="translate(188.5,1234.5) scale(0.64,1)" font-size="9.2" font-weight="normal" style="fill:#111" stroke="#111" stroke-width="0.3">1</text>
<line x1="248.95" y1="1225.20" x2="248.95" y2="1227.90" stroke="#000" stroke-width="1.1" />
<text transform="translate(249.4,1240.1) scale(0.63,1)" font-size="9.3" font-weight="normal" text-anchor="end" style="fill:#111" stroke="#111" stroke-width="0.3">10</text>
<text transform="translate(249.8,1234.5) scale(0.64,1)" font-size="9.2" font-weight="normal" style="fill:#111" stroke="#111" stroke-width="0.3">2</text>
<line x1="310.30" y1="1225.20" x2="310.30" y2="1227.90" stroke="#000" stroke-width="1.1" />
<text transform="translate(310.8,1240.1) scale(0.63,1)" font-size="9.3" font-weight="normal" text-anchor="end" style="fill:#111" stroke="#111" stroke-width="0.3">10</text>
<text transform="translate(311.2,1234.5) scale(0.64,1)" font-size="9.2" font-weight="normal" style="fill:#111" stroke="#111" stroke-width="0.3">3</text>
<line x1="371.65" y1="1225.20" x2="371.65" y2="1227.90" stroke="#000" stroke-width="1.1" />
<text transform="translate(372.1,1240.1) scale(0.63,1)" font-size="9.3" font-weight="normal" text-anchor="end" style="fill:#111" stroke="#111" stroke-width="0.3">10</text>
<text transform="translate(372.6,1234.5) scale(0.64,1)" font-size="9.2" font-weight="normal" style="fill:#111" stroke="#111" stroke-width="0.3">4</text>
<rect x="124.95" y="1070.40" width="2.7" height="156.25" fill="#000"/>
<rect x="124.95" y="1223.75" width="246.35" height="2.9" fill="#000"/>
<rect x="124.95" y="1070.30" width="246.35" height="2.7" fill="#000"/>
<rect x="368.80" y="1070.40" width="2.5" height="156.25" fill="#000"/>
<text x="274.00" y="1105.80" font-size="24.5" font-weight="bold" font-style="italic" text-anchor="start"  stroke="#000" stroke-width="0.35">Kit</text>
<text x="314.00" y="1099.20" font-size="15.6" font-weight="bold" font-style="italic" text-anchor="start" letter-spacing="0.55" stroke="#000" stroke-width="0.35">787F</text>
</svg>
</body>
</html>
